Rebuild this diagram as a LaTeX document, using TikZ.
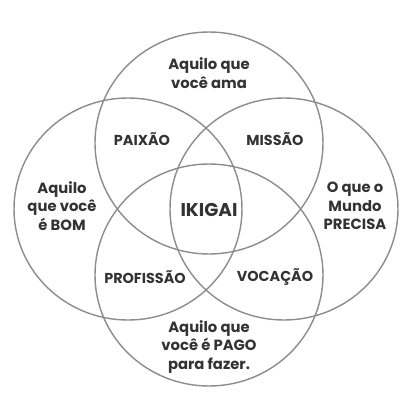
\documentclass[tikz,border=0pt]{standalone}
\usepackage{fontspec}
\setmainfont{Poppins}
\usetikzlibrary{shapes.geometric}
\definecolor{ringgray}{HTML}{8C8C8C}
\definecolor{txtgray}{HTML}{333333}
\tikzset{
  ring/.style={draw=ringgray,ellipse,line width=1.4pt,minimum width=228pt,minimum height=222pt,inner sep=0pt},
  lbl/.style={font=\fontsize{14.8}{18.5}\selectfont\bfseries,text=txtgray,align=center,inner sep=0pt},
  zone/.style={lbl,font=\fontsize{14.4}{18}\selectfont\bfseries},
  core/.style={lbl,font=\fontsize{18.5}{22}\selectfont\bfseries}
}

\begin{document}
\begin{tikzpicture}[x=1pt,y=-1pt]
  \useasboundingbox (0,0) rectangle (400,400);
  % the four circles
  \node[ring] (ama) at (209,143) {};
  \node[ring] (bom) at (128,209) {};
  \node[ring] (mundo) at (284,209) {};
  \node[ring] (pago) at (209,275) {};

  % outer texts
  \node[lbl] (amatxt) at (209,73) {Aquilo que\\você ama};
  \node[lbl] (bomtxt) at (62,206) {Aquilo\\que você\\é BOM};
  \node[lbl] (mundotxt) at (355,206) {O que o\\Mundo\\PRECISA};
  \node[lbl] (pagotxt) at (209,347) {Aquilo que\\você é PAGO\\para fazer.};

  % overlaps
  \node[zone] (paixao) at (142,139) {PAIXÃO};
  \node[zone] (missao) at (275,139) {MISSÃO};
  \node[zone] (profissao) at (145,277) {PROFISSÃO};
  \node[zone] (vocacao) at (275,277) {VOCAÇÃO};
  \node[core] (ikigai) at (209,210) {IKIGAI};
\end{tikzpicture}
\end{document}
